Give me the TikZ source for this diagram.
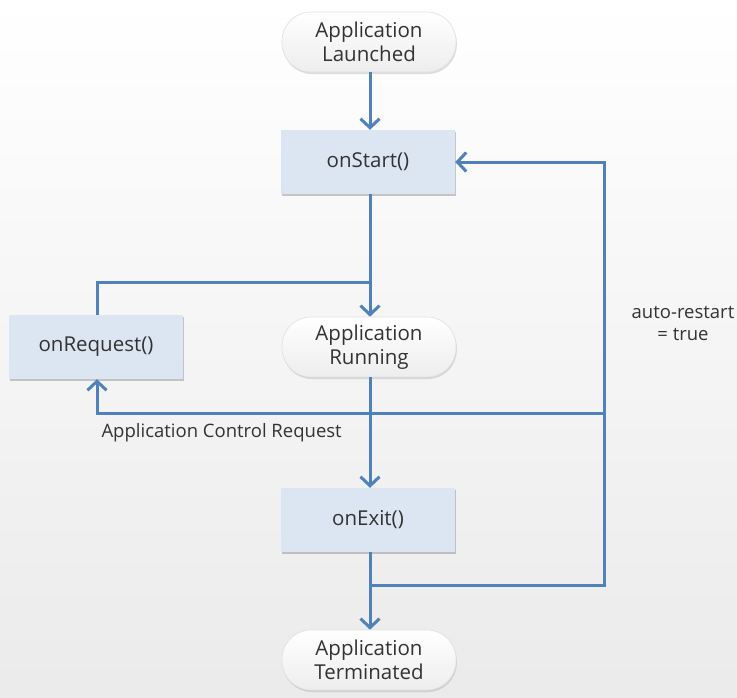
\documentclass[tikz,border=0pt]{standalone}
\usepackage{fontspec}
\setmainfont{Open Sans}
\usetikzlibrary{arrows.meta,shadows}
\definecolor{lineblue}{HTML}{4F81BD}
\definecolor{boxblue}{HTML}{DCE6F2}
\definecolor{txt}{HTML}{333333}
\begin{document}
\begin{tikzpicture}[x=1pt,y=-1pt,
  font=\fontsize{20.5}{24}\selectfont, text=txt,
  base/.style={minimum width=174pt, minimum height=64pt, align=center, inner sep=2pt},
  func/.style={base, rectangle, fill=boxblue,
     drop shadow={opacity=0.35, shadow xshift=0.8pt, shadow yshift=-2.2pt, fill=black!60}},
  pill/.style={base, minimum height=60pt, rounded corners=29pt,
     top color=white, bottom color=black!7, draw=black!12, line width=0.6pt,
     drop shadow={opacity=0.25, shadow xshift=0.8pt, shadow yshift=-2pt, fill=black!50}},
  flow/.style={draw=lineblue, line width=3pt},
  arr/.style={flow, -{Straight Barb[length=9pt,width=19pt,line width=3pt]}},
  lab/.style={font=\fontsize{18.5}{22}\selectfont, align=center}]
\shade[top color=white, bottom color=black!8] (0,0) rectangle (737,697);
\useasboundingbox (0,0) rectangle (737,697);

\node[pill] (launch) at (369,42) {Application\\Launched};
\node[func] (start) at (368,162) {onStart()};
\node[pill] (run) at (369,347) {Application\\Running};
\node[func] (req) at (96,347) {onRequest()};
\node[func] (exit) at (368,520) {onExit()};
\node[pill] (term) at (369,660) {Application\\Terminated};

\coordinate (jq) at (370,282);
\coordinate (rq) at (97,282);
\coordinate (je) at (370,585);
\coordinate (r1) at (604,162);
\coordinate (r2) at (604,413);
\coordinate (r3) at (604,585);

\draw[arr] (launch.south -| jq) -- (start.north -| jq);
\draw[arr] (start.south -| jq) -- (run.north -| jq);
\draw[flow] (req.north -| rq) -- (rq) -- (jq);
\draw[arr] (run.south -| jq) -- (exit.north -| jq);
\draw[arr] (exit.south -| jq) -- (term.north -| jq);
\draw[arr] (je) -- (r3) -- (r1) -- (start.east |- r1);
\draw[arr] (r2) -| (req.south -| rq);

\node[lab, anchor=north west] (acr) at (98,420) {Application Control Request};
\node[lab] (auto) at (683,323) {auto-restart\\= true};
\end{tikzpicture}
\end{document}
